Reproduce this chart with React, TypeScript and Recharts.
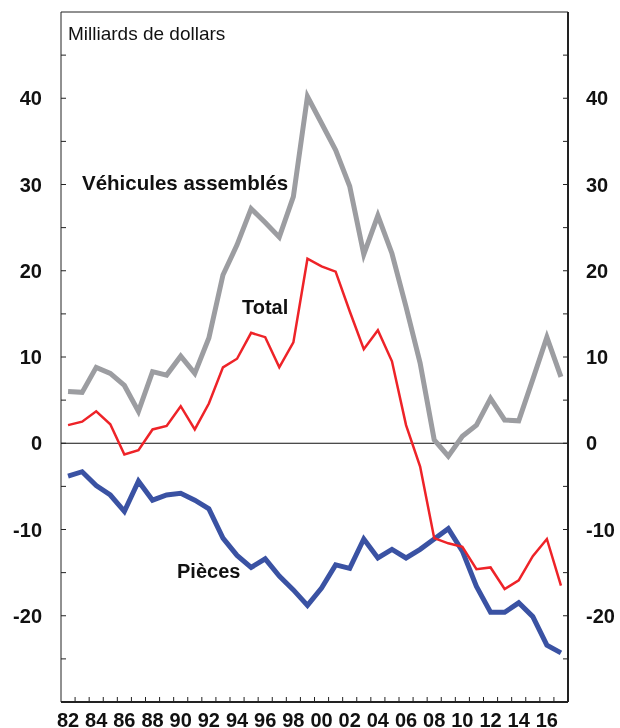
import { LineChart, Line, XAxis, YAxis, ReferenceLine } from "recharts";

const YEARS = [
  1982, 1983, 1984, 1985, 1986, 1987, 1988, 1989, 1990, 1991, 1992, 1993,
  1994, 1995, 1996, 1997, 1998, 1999, 2000, 2001, 2002, 2003, 2004, 2005,
  2006, 2007, 2008, 2009, 2010, 2011, 2012, 2013, 2014, 2015, 2016, 2017,
];

const VEHICULES = [
  6.0, 5.9, 8.8, 8.1, 6.7, 3.7, 8.3, 7.9, 10.1, 8.1, 12.2, 19.5, 23.0, 27.2,
  25.6, 23.9, 28.6, 40.2, 37.1, 34.0, 29.8, 21.9, 26.4, 22.0, 15.8, 9.3, 0.4,
  -1.5, 0.8, 2.1, 5.2, 2.7, 2.6, 7.4, 12.3, 7.7,
];

const TOTAL = [
  2.1, 2.5, 3.7, 2.2, -1.3, -0.8, 1.6, 2.0, 4.3, 1.6, 4.6, 8.8, 9.8, 12.8, 12.3,
  8.8, 11.7, 21.4, 20.5, 19.9, 15.3, 10.9, 13.1, 9.5, 2.1, -2.7, -11.0, -11.6,
  -12.0, -14.6, -14.4, -16.9, -15.9, -13.1, -11.1, -16.5,
];

const PIECES = [
  -3.8, -3.3, -4.9, -6.0, -7.9, -4.4, -6.6, -6.0, -5.8, -6.6, -7.6, -11.0,
  -13.0, -14.4, -13.4, -15.4, -17.0, -18.8, -16.8, -14.1, -14.5, -11.1, -13.3,
  -12.3, -13.3, -12.3, -11.1, -9.9, -12.5, -16.6, -19.6, -19.6, -18.5, -20.1,
  -23.4, -24.3,
];

const Y_TICKS = [-25, -20, -15, -10, -5, 0, 5, 10, 15, 20, 25, 30, 35, 40, 45];
const Y_LABELS = [-20, -10, 0, 10, 20, 30, 40];
const X_LABELS = [
  1982, 1984, 1986, 1988, 1990, 1992, 1994, 1996, 1998, 2000, 2002, 2004, 2006,
  2008, 2010, 2012, 2014, 2016,
];
const X_MINOR = YEARS.slice(0, -1).map((y) => y + 0.5);

const data = YEARS.map((year, i) => ({
  year,
  vehicules: VEHICULES[i],
  total: TOTAL[i],
  pieces: PIECES[i],
}));

const W = 620;
const H = 728;
const PLOT_LEFT = 61;
const PLOT_RIGHT = 568;
const PLOT_TOP = 12;
const PLOT_BOTTOM = 702;
const FONT = "'Liberation Sans', Arial, sans-serif";

function LeftTick(props: any) {
  const { y, payload } = props;
  const v = payload.value;
  return (
    <g>
      <line x1={PLOT_LEFT} x2={PLOT_LEFT + 5} y1={y} y2={y} stroke="#222" strokeWidth={1} />
      {Y_LABELS.includes(v) && (
        <text
          x={42}
          y={y}
          dy="0.36em"
          textAnchor="end"
          fontFamily={FONT}
          fontWeight="bold"
          fontSize={20}
          fill="#111"
        >
          {v}
        </text>
      )}
    </g>
  );
}

function RightTick(props: any) {
  const { y, payload } = props;
  const v = payload.value;
  return (
    <g>
      <line x1={PLOT_RIGHT - 5} x2={PLOT_RIGHT} y1={y} y2={y} stroke="#222" strokeWidth={1} />
      {Y_LABELS.includes(v) && (
        <text
          x={586}
          y={y}
          dy="0.36em"
          textAnchor="start"
          fontFamily={FONT}
          fontWeight="bold"
          fontSize={20}
          fill="#111"
        >
          {v}
        </text>
      )}
    </g>
  );
}

function BottomTick(props: any) {
  const { x, payload } = props;
  const v = payload.value;
  if (!Number.isInteger(v)) {
    return <line x1={x} x2={x} y1={PLOT_BOTTOM} y2={PLOT_BOTTOM - 5} stroke="#222" strokeWidth={1} />;
  }
  return (
    <text
      x={x}
      y={727}
      textAnchor="middle"
      fontFamily={FONT}
      fontWeight="bold"
      fontSize={20}
      fill="#111"
    >
      {String(v % 100).padStart(2, "0")}
    </text>
  );
}

export default function App() {
  return (
    <div style={{ position: "fixed", left: 0, top: 0, width: W, height: H }}>
      <LineChart
        width={W}
        height={H}
        data={data}
        margin={{ top: PLOT_TOP, right: 0, bottom: 0, left: 0 }}
      >
        <XAxis
          dataKey="year"
          type="number"
          domain={[1981.5, 2017.5]}
          ticks={[...X_MINOR, ...X_LABELS]}
          interval={0}
          tick={<BottomTick />}
          tickLine={false}
          axisLine={{ stroke: "#222", strokeWidth: 2 }}
          height={H - PLOT_BOTTOM}
          allowDataOverflow
        />
        <YAxis
          yAxisId="left"
          orientation="left"
          domain={[-30, 50]}
          ticks={Y_TICKS}
          interval={0}
          width={PLOT_LEFT}
          tick={<LeftTick />}
          tickLine={false}
          axisLine={{ stroke: "#222", strokeWidth: 1 }}
          allowDataOverflow
        />
        <YAxis
          yAxisId="right"
          orientation="right"
          domain={[-30, 50]}
          ticks={Y_TICKS}
          interval={0}
          width={W - PLOT_RIGHT}
          tick={<RightTick />}
          tickLine={false}
          axisLine={{ stroke: "#222", strokeWidth: 2 }}
          allowDataOverflow
        />
        <ReferenceLine yAxisId="left" y={50} stroke="#222" strokeWidth={1} />
        <ReferenceLine yAxisId="left" y={0} stroke="#111" strokeWidth={1} />
        <Line
          yAxisId="left"
          dataKey="vehicules"
          stroke="#9c9da1"
          strokeWidth={5}
          dot={false}
          isAnimationActive={false}
        />
        <Line
          yAxisId="left"
          dataKey="pieces"
          stroke="#3a52a3"
          strokeWidth={5}
          dot={false}
          isAnimationActive={false}
        />
        <Line
          yAxisId="left"
          dataKey="total"
          stroke="#ee2328"
          strokeWidth={2.5}
          dot={false}
          isAnimationActive={false}
        />
      </LineChart>
      <svg
        width={W}
        height={H}
        style={{ position: "absolute", left: 0, top: 0, pointerEvents: "none" }}
      >
        <text x={68} y={40} fontFamily={FONT} fontSize={19} fill="#111">
          Milliards de dollars
        </text>
        <text x={82} y={190} fontFamily={FONT} fontSize={20.5} fontWeight="bold" fill="#111">
          Véhicules assemblés
        </text>
        <text x={242} y={314} fontFamily={FONT} fontSize={20} fontWeight="bold" fill="#111">
          Total
        </text>
        <text x={177} y={578} fontFamily={FONT} fontSize={20} fontWeight="bold" fill="#111">
          Pièces
        </text>
      </svg>
    </div>
  );
}
